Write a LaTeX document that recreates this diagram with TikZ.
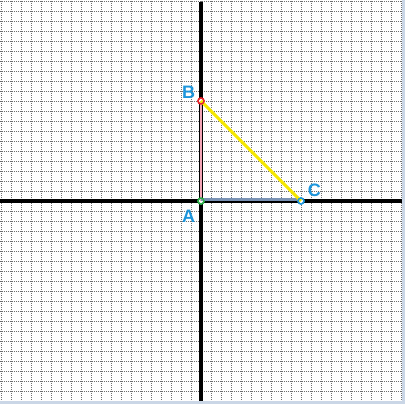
\documentclass[tikz,border=0pt]{standalone}
\usepackage{fontspec}
\setmainfont{Liberation Sans}
\usetikzlibrary{positioning}
\definecolor{cgrid}{HTML}{6E6E6E}
\definecolor{cframe}{HTML}{CAD6E6}
\definecolor{cab}{HTML}{F4A6B8}
\definecolor{cac}{HTML}{7A92B4}
\definecolor{cbc}{HTML}{F5E800}
\definecolor{clbl}{HTML}{1E96DC}
\definecolor{cptb}{HTML}{E8232A}
\definecolor{cpta}{HTML}{2DB04A}
\definecolor{cptc}{HTML}{1E96DC}

\begin{document}
\begin{tikzpicture}[x=10pt, y=10pt,
  pt/.style={circle, draw=#1, line width=1.4pt, fill=white, inner sep=0pt,
             minimum size=6pt},
  lbl/.style={text=clbl, font=\fontsize{18}{18}\selectfont\bfseries,
              inner sep=1pt},
  seg/.style={line width=#1}
]
\useasboundingbox (-20.1,-20.3) rectangle (20.4,20.1);
\fill[white] (-20.1,-20.3) rectangle (20.4,20.1);

%% Grid
\foreach \k in {-20,...,20} {
  \draw[cgrid, line width=0.8pt, dash pattern=on 1pt off 1pt]
    (\k,-20.3) -- (\k,20.1);
  \draw[cgrid, line width=0.8pt, dash pattern=on 1pt off 1pt]
    (-20.1,\k) -- (20.1,\k);
}

%% Frame
\fill[cframe] (20.1,-20.3) rectangle (20.4,20.1);
\fill[cframe] (-20.1,-20.3) rectangle (20.4,-20.0);

%% Axes
\draw[line width=4pt] (-20.1,0) -- (20.1,0);
\draw[line width=4pt] (0,-20) -- (0,19.9);

%% Points
\node[pt=cpta] (A) at (0,0)  {};
\node[pt=cptb] (B) at (0,10) {};
\node[pt=cptc] (C) at (10,0) {};

%% Sides
\draw[cab, seg=2pt] (A.center) -- (B.center);
\draw[cac, seg=3pt] ([yshift=1pt]A.center) -- ([yshift=1pt]C.center);
\draw[cbc, seg=3pt] (B.center) -- (C.center);
\node[pt=cpta, fill=none] at (A) {};
\node[pt=cptb, fill=none] at (B) {};
\node[pt=cptc, fill=none] at (C) {};

%% Labels
\node[lbl, above left=-1pt and 2pt of B]  {B};
\node[lbl, below left=5pt and 2pt of A]  {A};
\node[lbl, above right=1pt and 3pt of C] {C};
\end{tikzpicture}
\end{document}
